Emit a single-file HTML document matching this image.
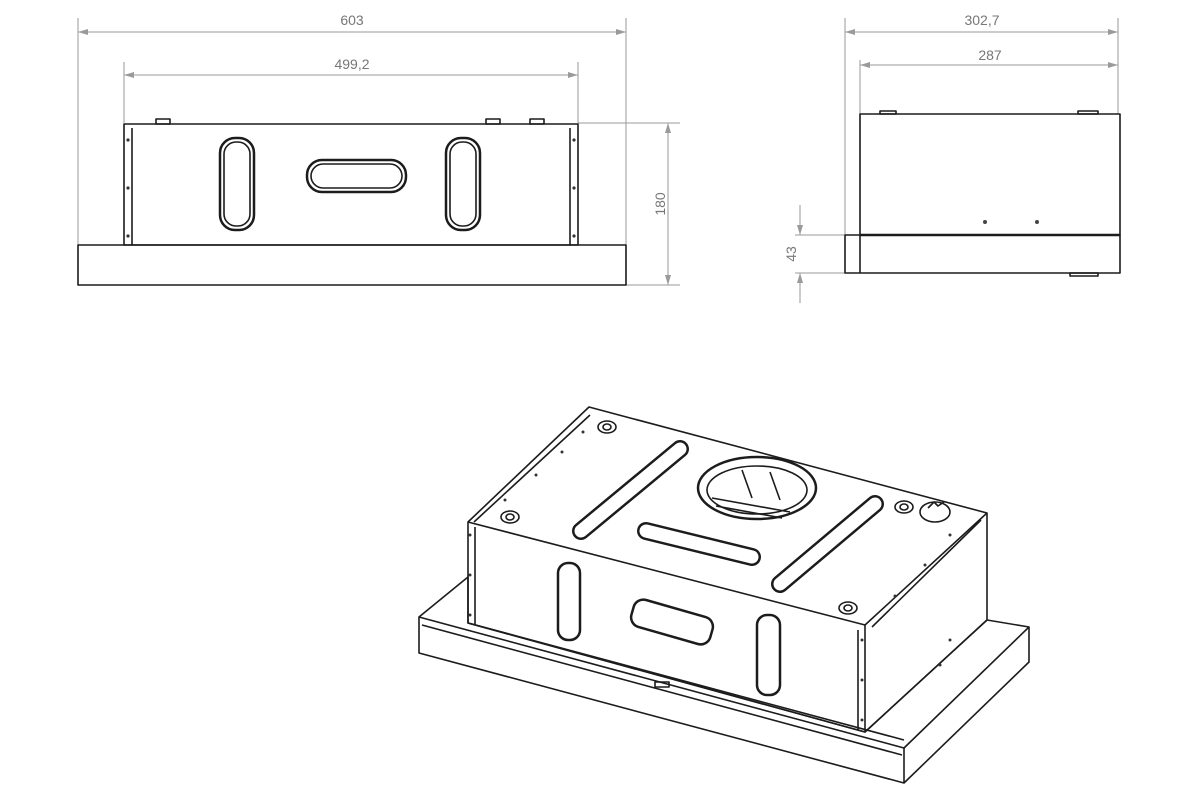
<!DOCTYPE html>
<html><head><meta charset="utf-8"><style>
html,body{margin:0;padding:0;background:#fff;width:1200px;height:800px;overflow:hidden}
svg{display:block}
.d{stroke:#9a9a9a;stroke-width:1;fill:none}
.t{font-family:"Liberation Sans",sans-serif;font-size:14px;fill:#777}
.k{stroke:#1c1c1c;stroke-width:1.6;fill:none;stroke-linejoin:round}
.k2{stroke:#1c1c1c;stroke-width:2.5;fill:none;stroke-linejoin:round}
</style></head><body>
<svg width="1200" height="800" viewBox="0 0 1200 800">
<defs>
<marker id="a" viewBox="0 0 10 6" refX="10" refY="3" markerWidth="10" markerHeight="6" orient="auto-start-reverse"><path d="M0,0 L10,3 L0,6z" fill="#9a9a9a"/></marker>
</defs>
<line class="d" x1="78" y1="18" x2="78" y2="245"/>
<line class="d" x1="626" y1="18" x2="626" y2="245"/>
<line class="d" x1="78" y1="32" x2="626" y2="32" marker-start="url(#a)" marker-end="url(#a)"/>
<text class="t" x="352" y="25" text-anchor="middle">603</text>
<line class="d" x1="124" y1="62" x2="124" y2="123"/>
<line class="d" x1="578" y1="62" x2="578" y2="123"/>
<line class="d" x1="124" y1="75" x2="578" y2="75" marker-start="url(#a)" marker-end="url(#a)"/>
<text class="t" x="352" y="69" text-anchor="middle">499,2</text>
<line class="d" x1="578" y1="123" x2="680" y2="123"/>
<line class="d" x1="626" y1="285" x2="680" y2="285"/>
<line class="d" x1="668" y1="123" x2="668" y2="285" marker-start="url(#a)" marker-end="url(#a)"/>
<text class="t" transform="translate(665,204) rotate(-90)" text-anchor="middle">180</text>
<rect class="k" x="124" y="124" width="454" height="121"/>
<line class="k" x1="132" y1="128" x2="132" y2="245"/>
<line class="k" x1="570" y1="128" x2="570" y2="245"/>
<rect class="k" x="156" y="119" width="14" height="5"/><rect class="k" x="486" y="119" width="14" height="5"/><rect class="k" x="530" y="119" width="14" height="5"/>
<rect class="k" x="78" y="245" width="548" height="40"/>
<rect class="k2" x="220" y="138" width="34" height="92" rx="15"/>
<rect class="k" x="224" y="142" width="26" height="84" rx="12"/>
<rect class="k2" x="446" y="138" width="34" height="92" rx="15"/>
<rect class="k" x="450" y="142" width="26" height="84" rx="12"/>
<rect class="k2" x="307" y="160" width="99" height="32" rx="15"/>
<rect class="k" x="311" y="164" width="91" height="24" rx="12"/>
<g fill="#333"><circle cx="128" cy="140" r="1.6"/><circle cx="128" cy="188" r="1.6"/><circle cx="128" cy="236" r="1.6"/><circle cx="574" cy="140" r="1.6"/><circle cx="574" cy="188" r="1.6"/><circle cx="574" cy="236" r="1.6"/></g>
<line class="d" x1="845" y1="18" x2="845" y2="235"/>
<line class="d" x1="1118" y1="18" x2="1118" y2="114"/>
<line class="d" x1="845" y1="32" x2="1118" y2="32" marker-start="url(#a)" marker-end="url(#a)"/>
<text class="t" x="982" y="25" text-anchor="middle">302,7</text>
<line class="d" x1="860" y1="60" x2="860" y2="114"/>
<line class="d" x1="860" y1="65" x2="1118" y2="65" marker-start="url(#a)" marker-end="url(#a)"/>
<text class="t" x="990" y="60" text-anchor="middle">287</text>
<line class="d" x1="795" y1="235" x2="845" y2="235"/>
<line class="d" x1="795" y1="273" x2="845" y2="273"/>
<line class="d" x1="800" y1="205" x2="800" y2="235" marker-end="url(#a)"/>
<line class="d" x1="800" y1="303" x2="800" y2="273" marker-end="url(#a)"/>
<text class="t" transform="translate(796,254) rotate(-90)" text-anchor="middle">43</text>
<rect class="k" x="860" y="114" width="260" height="121"/>
<rect class="k" x="880" y="111" width="16" height="3"/><rect class="k" x="1078" y="111" width="20" height="3"/>
<line class="k2" x1="860" y1="235" x2="1120" y2="235"/>
<rect class="k" x="845" y="235" width="275" height="38"/>
<line class="k" x1="860" y1="235" x2="860" y2="273"/>
<rect class="k" x="1070" y="273" width="28" height="3"/>
<g fill="#444"><circle cx="985" cy="222" r="2"/><circle cx="1037" cy="222" r="2"/></g>
<polygon class="k" points="419,617 468,577 468,623 865,732 987,620 1029,627 1029,662 904,783 419,653" fill="#fff"/>
<polyline class="k" points="419,617 904,748 1029,627"/>
<line class="k" x1="904" y1="748" x2="904" y2="783"/>
<line class="k" x1="422" y1="625" x2="902" y2="755"/>
<line class="k" x1="468" y1="623" x2="904" y2="740"/>
<rect class="k" x="655" y="682" width="14" height="5"/>
<polygon class="k" points="589,407 987,513 987,620 865,732 468,623 468,522" fill="#fff"/>
<polyline class="k" points="468,522 865,625 987,513"/>
<line class="k" x1="865" y1="625" x2="865" y2="732"/>
<line class="k" x1="475" y1="527" x2="475" y2="625"/>
<line class="k" x1="858" y1="630" x2="858" y2="730"/>
<line class="k" x1="474" y1="522" x2="590" y2="415"/>
<line class="k" x1="872" y1="627" x2="981" y2="520"/>
<line stroke="#1c1c1c" stroke-width="18" stroke-linecap="round" x1="581" y1="531" x2="680" y2="449"/>
<line stroke="#fff" stroke-width="13" stroke-linecap="round" x1="581" y1="531" x2="680" y2="449"/>
<line stroke="#1c1c1c" stroke-width="18" stroke-linecap="round" x1="780" y1="584" x2="875" y2="504"/>
<line stroke="#fff" stroke-width="13" stroke-linecap="round" x1="780" y1="584" x2="875" y2="504"/>
<line stroke="#1c1c1c" stroke-width="18" stroke-linecap="round" x1="646" y1="531" x2="752" y2="557"/>
<line stroke="#fff" stroke-width="13" stroke-linecap="round" x1="646" y1="531" x2="752" y2="557"/>
<rect class="k2" x="558" y="563" width="22" height="77" rx="10"/>
<rect class="k2" x="757" y="615" width="23" height="80" rx="10"/>
<rect class="k2" x="631" y="608" width="82" height="28" rx="10" transform="rotate(16 672 622)"/>
<ellipse class="k2" cx="757" cy="488" rx="59" ry="31"/>
<ellipse class="k" cx="757" cy="490" rx="50" ry="24"/>
<path class="k" d="M712,498 L790,512 M716,506 L782,518 M742,470 L752,498 M770,472 L780,500"/>
<g class="k" fill="#fff">
<ellipse cx="607" cy="427" rx="9" ry="6"/><ellipse cx="607" cy="427" rx="4" ry="3"/>
<ellipse cx="510" cy="517" rx="9" ry="6"/><ellipse cx="510" cy="517" rx="4" ry="3"/>
<ellipse cx="904" cy="507" rx="9" ry="6"/><ellipse cx="904" cy="507" rx="4" ry="3"/>
<ellipse cx="848" cy="608" rx="9" ry="6"/><ellipse cx="848" cy="608" rx="4" ry="3"/>
<ellipse cx="935" cy="512" rx="15" ry="10"/>
</g>
<path class="k" d="M928,508 l6,-6 l4,4 l6,-4"/>
<g fill="#333"><circle cx="583" cy="432" r="1.5"/><circle cx="562" cy="452" r="1.5"/><circle cx="536" cy="475" r="1.5"/><circle cx="505" cy="500" r="1.5"/><circle cx="470" cy="535" r="1.5"/><circle cx="470" cy="575" r="1.5"/><circle cx="470" cy="615" r="1.5"/><circle cx="862" cy="640" r="1.5"/><circle cx="862" cy="680" r="1.5"/><circle cx="862" cy="720" r="1.5"/><circle cx="950" cy="535" r="1.5"/><circle cx="925" cy="565" r="1.5"/><circle cx="895" cy="596" r="1.5"/><circle cx="950" cy="640" r="1.5"/><circle cx="940" cy="665" r="1.5"/></g>
</svg>
</body></html>
